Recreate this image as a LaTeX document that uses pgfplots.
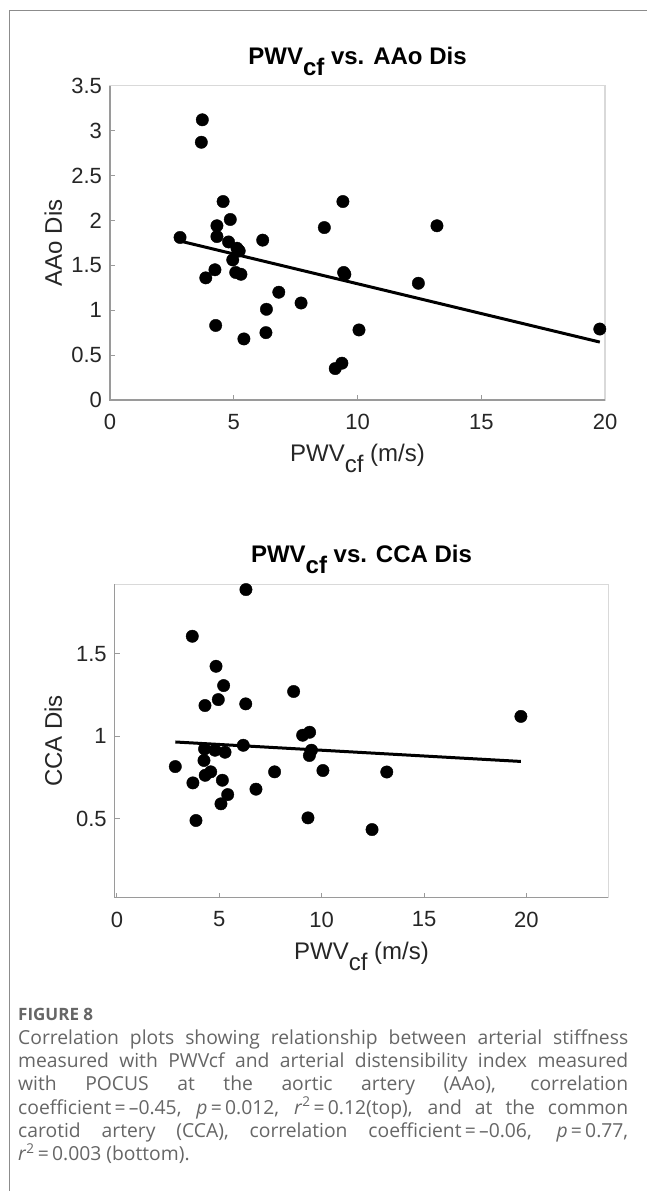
\documentclass[border=0pt]{standalone}
\usepackage{fontspec}
\setmainfont{Liberation Sans}
\newfontfamily\capfont{Open Sans}
\usepackage{pgfplots}
\pgfplotsset{compat=1.18}
\definecolor{axgray}{HTML}{9A9A9A}
\definecolor{boxgray}{HTML}{D9D9D9}
\definecolor{tickgray}{HTML}{262626}
\definecolor{capgray}{HTML}{666666}
\definecolor{framegray}{HTML}{8C8C8C}
\newcommand{\sub}[1]{\raisebox{-0.45em}{#1}}

\pgfplotstableread{
x y
2.83 1.81
3.73 3.12
3.69 2.87
3.87 1.36
4.24 1.45
4.27 0.83
4.32 1.94
4.32 1.82
4.57 2.21
4.79 1.76
4.86 2.01
4.96 1.56
5.13 1.69
5.22 1.66
5.08 1.42
5.29 1.40
5.41 0.68
6.17 1.78
6.32 1.01
6.30 0.75
6.82 1.20
7.72 1.08
8.66 1.92
9.41 2.21
9.44 1.42
9.49 1.40
9.10 0.35
9.37 0.41
10.06 0.78
12.46 1.30
13.21 1.94
19.79 0.79
}\aao

\pgfplotstableread{
x y
2.85 0.815
3.68 1.605
3.71 0.716
3.86 0.488
4.25 0.852
4.28 0.922
4.30 1.185
4.31 0.762
4.58 0.783
4.79 0.914
4.84 1.423
4.95 1.221
5.08 0.589
5.15 0.732
5.21 1.306
5.28 0.902
5.41 0.645
6.17 0.944
6.30 1.888
6.29 1.195
6.79 0.678
7.70 0.783
8.63 1.270
9.07 1.005
9.41 1.023
9.33 0.504
9.40 0.882
9.50 0.914
10.06 0.791
12.46 0.433
13.18 0.782
19.73 1.119
}\cca

\pgfplotsset{mystyle/.style={
  scale only axis, anchor=south west, clip=false,
  axis line style={draw=boxgray, line width=1.2pt},
  tick align=inside, xtick pos=bottom, ytick pos=left,
  major tick length=5pt,
  tick style={draw=axgray, line width=1pt},
  tick label style={font=\fontsize{22}{22}\selectfont, text=tickgray},
  xticklabel style={yshift=-10.5pt},
  yticklabel style={xshift=-4.5pt},
  /pgf/number format/assume math mode=true,
  every axis title/.style={at={(0.5,1)}, anchor=base, yshift=21.4pt, font=\bfseries\fontsize{24}{24}\selectfont},
  every axis x label/.style={at={(axis description cs:0.5,0)}, anchor=base, yshift=-61.6pt, font=\fontsize{24}{24}\selectfont, text=tickgray},
  after end axis/.code={\draw[axgray, line width=1.3pt] (rel axis cs:0,1) -- (rel axis cs:0,0) -- (rel axis cs:1,0);},
}}

\begin{document}
\begin{tikzpicture}
\useasboundingbox (0,0) rectangle (646pt,1191pt);
\fill[white] (0,0) rectangle (646pt,1191pt);
\draw[framegray, line width=1.3pt] (9.3pt,-2pt) -- (9.3pt,1180.3pt) -- (648pt,1180.3pt);

\begin{axis}[mystyle,
  at={(110pt,791pt)}, width=495pt, height=314.3pt,
  xmin=0, xmax=20, ymin=0, ymax=3.5,
  xtick={0,5,10,15,20}, ytick={0,0.5,1,1.5,2,2.5,3,3.5},
  every axis y label/.style={at={(axis description cs:-0.097,0.5)}, rotate=90, anchor=base, font=\fontsize{24}{24}\selectfont, text=tickgray},
  title={PWV\sub{cf} vs. AAo Dis},
  xlabel={PWV\sub{cf} (m/s)},
  ylabel={AAo Dis},
]
\addplot[only marks, mark=*, mark size=6.2pt, black] table[x=x,y=y] {\aao};
\addplot[black, line width=3pt] coordinates {(2.83,1.77) (19.79,0.645)};
\end{axis}

\begin{axis}[mystyle,
  at={(114.7pt,293.3pt)}, width=493.6pt, height=313.4pt,
  xmin=-0.11, xmax=24, ymin=0.02, ymax=1.92,
  xtick={0,5,10,15,20}, ytick={0.5,1,1.5},
  every axis y label/.style={at={(axis description cs:-0.1068,0.5)}, rotate=90, anchor=base, font=\fontsize{24}{24}\selectfont, text=tickgray},
  title={PWV\sub{cf} vs. CCA Dis},
  xlabel={PWV\sub{cf} (m/s)},
  ylabel={CCA Dis},
]
\addplot[only marks, mark=*, mark size=6.2pt, black] table[x=x,y=y] {\cca};
\addplot[black, line width=3pt] coordinates {(2.85,0.964) (19.73,0.846)};
\end{axis}

\begin{scope}[every node/.style={anchor=base west, inner sep=0pt, text=capgray, font=\capfont\fontsize{19.3}{19.3}\selectfont}]
\node[font=\capfont\bfseries\fontsize{17}{17}\selectfont] at (18pt,170.3pt) {FIGURE 8};
\node at (18pt,146.7pt) {\makebox[610pt][s]{Correlation plots showing relationship between arterial stiffness}};
\node at (18pt,123.3pt) {\makebox[610pt][s]{measured with PWVcf and arterial distensibility index measured}};
\node at (18pt,100pt) {\makebox[610pt][s]{with POCUS at the aortic artery (AAo), correlation}};
\node at (18pt,76.7pt) {\makebox[610pt][s]{coefficient\,=\,\textendash0.45, \textit{p}\,=\,0.012, \textit{r}\textsuperscript{2}\,=\,0.12(top), and at the common}};
\node at (18pt,53.3pt) {\makebox[610pt][s]{carotid artery (CCA), correlation coefficient\,=\,\textendash0.06, \textit{p}\,=\,0.77,}};
\node at (18pt,30pt) {\textit{r}\textsuperscript{2}\,=\,0.003 (bottom).};
\end{scope}
\end{tikzpicture}
\end{document}
